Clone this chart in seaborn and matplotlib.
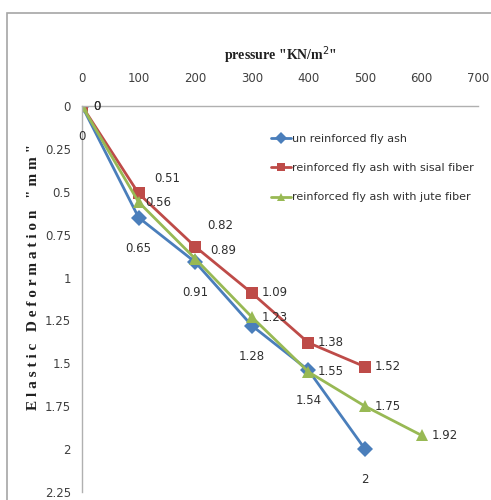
import numpy as np
import pandas as pd
import seaborn as sns
import matplotlib.pyplot as plt
from matplotlib.patches import Rectangle

sns.set_style('white')
plt.rcParams['font.family'] = ['DejaVu Sans']

# data
pressure_unr = [0, 100, 200, 300, 400, 500]
defo_unr = [0, 0.65, 0.91, 1.28, 1.54, 2]
pressure_sisal = [0, 100, 200, 300, 400, 500]
defo_sisal = [0, 0.51, 0.82, 1.09, 1.38, 1.52]
pressure_jute = [0, 100, 200, 300, 400, 500, 600]
defo_jute = [0, 0.56, 0.89, 1.23, 1.55, 1.75, 1.92]

names = ['un reinforced fly ash',
         'reinforced fly ash with sisal fiber',
         'reinforced fly ash with jute fiber']
x_ticks = [0, 100, 200, 300, 400, 500, 600, 700]
y_ticks = [0, 0.25, 0.5, 0.75, 1, 1.25, 1.5, 1.75, 2, 2.25]

colors = {names[0]: '#4a7ebb', names[1]: '#be4b48', names[2]: '#98b954'}
markers = {names[0]: 'D', names[1]: 's', names[2]: '^'}

df = pd.concat([
    pd.DataFrame({'pressure': pressure_unr, 'defo': defo_unr, 'series': names[0]}),
    pd.DataFrame({'pressure': pressure_sisal, 'defo': defo_sisal, 'series': names[1]}),
    pd.DataFrame({'pressure': pressure_jute, 'defo': defo_jute, 'series': names[2]}),
])

fig = plt.figure(figsize=(4.91, 5.0), dpi=100)
ax = fig.add_axes([0.167, 0.016, 0.807, 0.772])

sns.lineplot(data=df, x='pressure', y='defo', hue='series', style='series',
             palette=colors, markers=markers, dashes=False, markersize=8,
             markeredgewidth=0, linewidth=2, sort=False, ax=ax)

ax.set_xlim(0, 700)
ax.set_ylim(2.25, 0)
ax.set_xticks(x_ticks)
ax.set_yticks(y_ticks)
ax.set_yticklabels([f'{v:g}' for v in y_ticks])
ax.xaxis.tick_top()
ax.xaxis.set_label_position('top')
ax.tick_params(axis='both', length=0, labelsize=8.5, labelcolor='#404040')
ax.tick_params(axis='x', pad=15)
ax.tick_params(axis='y', pad=8)

for s in ['bottom', 'right']:
    ax.spines[s].set_visible(False)
for s in ['top', 'left']:
    ax.spines[s].set_color('#b0b0b0')
    ax.spines[s].set_linewidth(1)

ax.set_xlabel('pressure "KN/m$^{2}$"', family='Liberation Serif',
              fontweight='bold', fontsize=10, labelpad=9, color='#202020')
ax.set_ylabel('E l a s t i c   D e f o r m a t i o n   " m m "', family='Liberation Serif',
              fontweight='bold', fontsize=11, color='#202020')
ax.yaxis.set_label_coords(-0.106, 0.557)

# data labels
lab_kw = dict(textcoords='offset points', fontsize=8.5, color='#303030')
for x, y in zip(pressure_unr, defo_unr):
    ax.annotate(f'{y:g}', (x, y), xytext=(0, -22), ha='center', va='center', **lab_kw)
sisal_off = [(8, 0), (11, 11), (9, 15), (7, 0), (7, 0), (7, 0)]
for (x, y), off in zip(zip(pressure_sisal, defo_sisal), sisal_off):
    ax.annotate(f'{y:g}', (x, y), xytext=off, ha='left', va='center', **lab_kw)
jute_off = [(8, 0), (5, 0), (11, 6), (7, 0), (7, 0), (7, 0), (7, 0)]
for (x, y), off in zip(zip(pressure_jute, defo_jute), jute_off):
    ax.annotate(f'{y:g}', (x, y), xytext=off, ha='left', va='center', **lab_kw)

leg = ax.legend(loc='upper left', bbox_to_anchor=(0.465, 0.94), frameon=False,
                fontsize=8, handlelength=1.8, handletextpad=0.15, labelspacing=1.75,
                markerscale=0.75, borderaxespad=0)
for t in leg.get_texts():
    t.set_color('#303030')

# outer chart border
fig.patches.append(Rectangle((7 / 491, -0.1), 1.1, 1 - 13 / 500 + 0.1,
                             transform=fig.transFigure, fill=False,
                             edgecolor='#a6a6a6', linewidth=1.2))

fig.savefig('out.png', dpi=100)
